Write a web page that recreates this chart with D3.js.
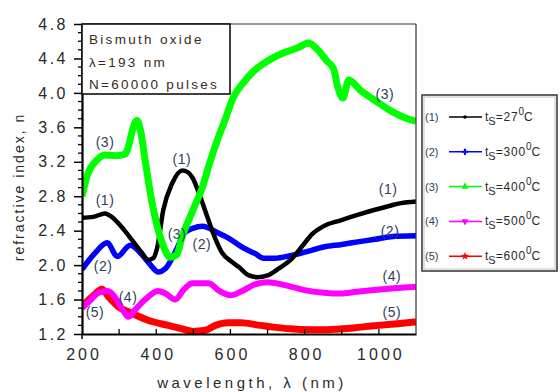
<!DOCTYPE html>
<html>
<head>
<meta charset="utf-8">
<script src="https://cdn.jsdelivr.net/npm/d3@7"></script>
<style>
  body { margin: 0; background: #fff; }
  text { font-family: "Liberation Sans", Arial, sans-serif; }
</style>
</head>
<body>
<svg id="chart" width="560" height="392"></svg>
<script>
// values (wavelength nm, refractive index n)
const wl1 = [200, 230, 262, 280, 297, 315, 335, 362, 378, 392, 403, 419, 443, 470, 485, 497, 519, 541, 560, 578, 600, 622, 650, 673, 700, 730, 762, 797, 820, 850, 897, 940, 987, 1030, 1059, 1100];
const n1  = [2.55, 2.56, 2.60, 2.56, 2.49, 2.40, 2.29, 2.14, 2.06, 2.08, 2.21, 2.64, 2.95, 3.10, 3.08, 3.02, 2.79, 2.52, 2.30, 2.14, 2.05, 1.98, 1.88, 1.86, 1.88, 1.96, 2.06, 2.24, 2.36, 2.45, 2.52, 2.58, 2.64, 2.69, 2.72, 2.74];

const wl2 = [200, 235, 268, 295, 330, 362, 385, 405, 425, 451, 478, 500, 524, 568, 600, 627, 668, 689, 720, 762, 800, 851, 900, 943, 990, 1032, 1100];
const n2  = [1.95, 2.14, 2.26, 2.10, 2.23, 2.12, 2.00, 1.92, 1.96, 2.15, 2.38, 2.43, 2.45, 2.37, 2.30, 2.22, 2.13, 2.08, 2.08, 2.11, 2.15, 2.21, 2.24, 2.27, 2.30, 2.33, 2.34];

const wl3 = [200, 215, 240, 262, 290, 316, 328, 335, 348, 357, 370, 389, 416, 438, 455, 470, 500, 524, 545, 568, 585, 608, 635, 662, 700, 740, 780, 811, 835, 860, 878, 889, 903, 919, 950, 987, 1041, 1070, 1100];
const n3  = [2.80, 3.05, 3.22, 3.28, 3.27, 3.29, 3.42, 3.55, 3.68, 3.58, 3.22, 2.72, 2.26, 2.09, 2.12, 2.33, 2.65, 2.90, 3.20, 3.49, 3.68, 3.95, 4.12, 4.25, 4.37, 4.46, 4.52, 4.58, 4.50, 4.37, 4.28, 4.07, 3.94, 4.15, 4.03, 3.92, 3.77, 3.71, 3.67];

const wl4 = [200, 220, 245, 270, 290, 310, 325, 343, 370, 405, 425, 451, 475, 497, 541, 570, 600, 632, 668, 700, 762, 800, 851, 897, 940, 987, 1040, 1100];
const n4  = [1.50, 1.58, 1.68, 1.70, 1.62, 1.48, 1.40, 1.48, 1.60, 1.70, 1.67, 1.60, 1.72, 1.79, 1.79, 1.70, 1.65, 1.70, 1.78, 1.80, 1.75, 1.71, 1.68, 1.67, 1.69, 1.71, 1.73, 1.75];

const wl5 = [200, 227, 254, 270, 297, 335, 378, 432, 470, 500, 530, 560, 592, 627, 681, 716, 760, 816, 851, 900, 951, 1000, 1050, 1100];
const n5  = [1.52, 1.63, 1.72, 1.64, 1.52, 1.44, 1.36, 1.30, 1.26, 1.23, 1.24, 1.30, 1.33, 1.33, 1.30, 1.28, 1.26, 1.25, 1.25, 1.26, 1.28, 1.30, 1.32, 1.34];

const seriesNames = ["(1)", "(2)", "(3)", "(4)", "(5)"];
const seriesTemps = ["27", "300", "400", "500", "600"];
const seriesColors = ["#000000", "#0000ff", "#00ff00", "#ff00ff", "#ff0000"];

const xTicks = [200, 400, 600, 800, 1000];
const yTicks = [1.2, 1.6, 2.0, 2.4, 2.8, 3.2, 3.6, 4.0, 4.4, 4.8];

const infoLines = ["Bismuth oxide", "\u03bb=193 nm", "N=60000 pulses"];

// curve labels placed in the plot: [label, wavelength, n]
const curveLabels = [
  ["(3)", 262, 3.42], ["(1)", 469, 3.22], ["(1)", 262, 2.74],
  ["(3)", 456, 2.35], ["(2)", 523, 2.23], ["(2)", 257, 1.98],
  ["(4)", 324, 1.62], ["(5)", 235, 1.44],
  ["(3)", 1016, 3.97], ["(1)", 1025, 2.87], ["(2)", 1030, 2.38],
  ["(4)", 1035, 1.86], ["(5)", 1035, 1.44]
];

const svg = d3.select("#chart");
const mLeft = 82, mRight = 416, mTop = 24, mBottom = 334;

const x = d3.scaleLinear().domain([200, 1100]).range([mLeft, mRight]);
const y = d3.scaleLinear().domain([1.2, 4.8]).range([mBottom, mTop]);

svg.append("clipPath").attr("id", "clip")
  .append("rect").attr("x", mLeft).attr("y", mTop)
  .attr("width", mRight - mLeft).attr("height", mBottom - mTop);

// curves
const allWl = [wl1, wl2, wl3, wl4, wl5];
const allN = [n1, n2, n3, n4, n5];
const widths = [4.5, 5.5, 7, 6, 7];
const line = d3.line().x(d => x(d[0])).y(d => y(d[1])).curve(d3.curveMonotoneX);

const curves = svg.append("g").attr("clip-path", "url(#clip)");
[4, 3, 1, 0, 2].forEach(i => {
  const pts = allWl[i].map((w, j) => [w, allN[i][j]]);
  curves.append("path")
    .attr("d", line(pts))
    .attr("fill", "none")
    .attr("stroke", seriesColors[i])
    .attr("stroke-width", widths[i])
    .attr("stroke-linejoin", "round");
});

// frame
svg.append("line").attr("x1", mLeft).attr("x2", mRight).attr("y1", mTop).attr("y2", mTop)
  .attr("stroke", "#333").attr("stroke-width", 1.2);
svg.append("line").attr("x1", mRight).attr("x2", mRight).attr("y1", mTop).attr("y2", mBottom)
  .attr("stroke", "#333").attr("stroke-width", 1.2);

// y axis, ticks outward
const yAxis = d3.axisLeft(y).tickValues(yTicks).tickFormat(d3.format(".1f")).tickSizeInner(8).tickSizeOuter(0).tickPadding(6);
const gy = svg.append("g").attr("transform", `translate(${mLeft},0)`).call(yAxis);
gy.select(".domain").attr("stroke", "#000").attr("stroke-width", 2.2);
gy.selectAll(".tick line").attr("stroke-width", 1.5);
gy.selectAll("text").attr("font-size", 16).attr("fill", "#2a2a2a")
  .attr("font-family", "Liberation Sans, Arial, sans-serif").attr("letter-spacing", 2.5);
svg.append("g").selectAll("line")
  .data(d3.range(12, 48).filter(v => v % 4 !== 0).map(v => v / 10))
  .join("line")
  .attr("x1", mLeft - 4).attr("x2", mLeft)
  .attr("y1", d => y(d)).attr("y2", d => y(d))
  .attr("stroke", "#000").attr("stroke-width", 1.3);

// x axis, ticks inward
const xAxis = d3.axisBottom(x).tickValues(xTicks).tickFormat(d3.format("d")).tickSize(0).tickPadding(15);
const gx = svg.append("g").attr("transform", `translate(0,${mBottom})`).call(xAxis);
gx.select(".domain").attr("stroke", "#000").attr("stroke-width", 2);
gx.selectAll("text").attr("font-size", 16).attr("fill", "#2a2a2a").attr("dx", 1.5)
  .attr("font-family", "Liberation Sans, Arial, sans-serif").attr("letter-spacing", 3);
svg.append("g").selectAll("line")
  .data(d3.range(300, 1100, 100))
  .join("line")
  .attr("x1", d => x(d)).attr("x2", d => x(d))
  .attr("y1", mBottom).attr("y2", mBottom - 5)
  .attr("stroke", "#000").attr("stroke-width", 1.3);
svg.append("line").attr("x1", mLeft).attr("x2", mLeft).attr("y1", mBottom).attr("y2", mBottom + 5)
  .attr("stroke", "#000").attr("stroke-width", 1.5);

// axis titles
svg.append("text")
  .attr("transform", `translate(24,${(mTop + mBottom) / 2 + 8}) rotate(-90)`)
  .attr("text-anchor", "middle").attr("font-size", 14).attr("letter-spacing", 2)
  .attr("fill", "#2a2a2a")
  .text("refractive index, n");
svg.append("text")
  .attr("x", 252).attr("y", 388)
  .attr("text-anchor", "middle").attr("font-size", 15).attr("letter-spacing", 3.5)
  .attr("fill", "#2a2a2a")
  .text("wavelength, \u03bb (nm)");

// info box
svg.append("rect").attr("x", mLeft).attr("y", mTop).attr("width", 148).attr("height", 70)
  .attr("fill", "#fff").attr("stroke", "#000").attr("stroke-width", 1.5);
svg.append("g").selectAll("text").data(infoLines).join("text")
  .attr("x", 89).attr("y", (d, i) => 44 + i * 22.5)
  .attr("font-size", 13.5).attr("letter-spacing", 2.3).attr("fill", "#3a2a1a")
  .text(d => d);

// curve labels
svg.append("g").selectAll("text").data(curveLabels).join("text")
  .attr("x", d => x(d[1])).attr("y", d => y(d[2]))
  .attr("text-anchor", "middle").attr("dominant-baseline", "middle")
  .attr("font-size", 14).attr("letter-spacing", 0.5).attr("fill", "#2f3f58")
  .text(d => d[0]);

// legend
const legX = 422, legY = 95;
const leg = svg.append("g");
leg.append("rect").attr("x", legX).attr("y", legY).attr("width", 135).attr("height", 176)
  .attr("fill", "#fff").attr("stroke", "#333").attr("stroke-width", 1.5);
leg.append("rect").attr("x", legX + 2).attr("y", legY + 2).attr("width", 131).attr("height", 172)
  .attr("fill", "none").attr("stroke", "#999").attr("stroke-width", 0.6);
const markers = [d3.symbolCircle, d3.symbolCross, d3.symbolTriangle, d3.symbolTriangle, d3.symbolStar];
seriesNames.forEach((name, i) => {
  const cy = 117 + i * 34.8;
  const g = leg.append("g");
  g.append("text").attr("x", 425).attr("y", cy + 4).attr("font-size", 11).attr("fill", "#2f3f58").text(name);
  g.append("line").attr("x1", 449).attr("x2", 482).attr("y1", cy).attr("y2", cy)
    .attr("stroke", seriesColors[i]).attr("stroke-width", 1.5);
  g.append("path").attr("d", d3.symbol().type(markers[i]).size(i === 0 ? 10 : 22)())
    .attr("transform", `translate(465,${cy})` + (i === 3 ? " rotate(180)" : ""))
    .attr("fill", seriesColors[i]);
  const t = g.append("text").attr("x", 485).attr("y", cy + 4).attr("font-size", 12).attr("fill", "#2a2a2a");
  t.append("tspan").text("t");
  t.append("tspan").attr("dy", 4).attr("font-size", 11).text("S");
  t.append("tspan").attr("dy", -4).attr("font-size", 12).attr("letter-spacing", 0.8).text("=" + seriesTemps[i]);
  t.append("tspan").attr("dy", -6).attr("font-size", 10).text("0");
  t.append("tspan").attr("dy", 6).attr("font-size", 12).text("C");
});
</script>
</body>
</html>
